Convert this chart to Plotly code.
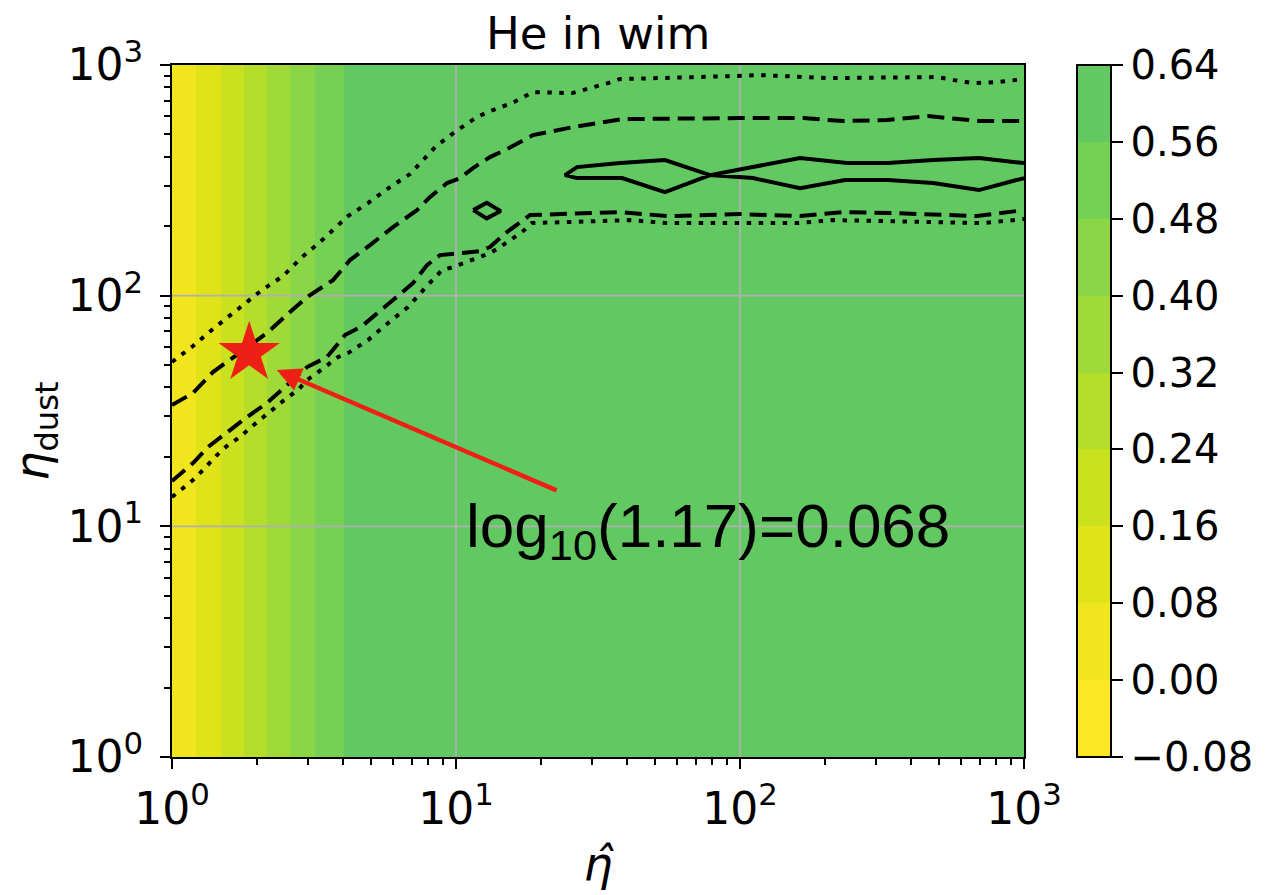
import math
import plotly.graph_objects as go

# ---------------- data ----------------
# grid of eta_hat (x) used for the filled field (20 log-spaced nodes)
ETA_HAT_GRID = [1.0, 1.438, 2.069, 2.976, 4.281, 6.158, 8.859, 12.74, 18.33, 26.37,
                37.93, 54.56, 78.48, 112.9, 162.4, 233.6, 336.0, 483.3, 695.2, 1000.0]
ETA_DUST_GRID = [1.0, 1000.0]
# filled-field value at each eta_hat node (independent of eta_dust)
FIELD_ROW = [0.005, 0.145, 0.302, 0.457, 0.580, 0.600, 0.610, 0.615, 0.618, 0.620,
             0.620, 0.621, 0.622, 0.622, 0.623, 0.623, 0.624, 0.624, 0.625, 0.625]

LEVELS = [-0.08, 0.00, 0.08, 0.16, 0.24, 0.32, 0.40, 0.48, 0.56, 0.64]
BAND_COLORS = ["#fde725", "#f1e51d", "#dfe318", "#cae11f", "#b5de2b",
               "#a0da39", "#8bd646", "#76d054", "#62c962"]

# contour lines (eta_hat, eta_dust)
DOTTED_UPPER_X = [1.0, 1.186, 1.394, 1.764, 2.074, 2.459, 2.846, 3.320, 4.166, 4.899, 5.856,
                  6.887, 7.906, 8.505, 10.0, 11.86, 13.17, 15.75, 18.67, 25.62, 34.29, 37.81,
                  94.5, 117.6, 207.5, 494, 595, 661, 803, 1000]
DOTTED_UPPER_Y = [51.6, 60.5, 71.7, 90.1, 105.8, 121.6, 145.6, 170.8, 221.3, 252.0, 295.6,
                  336.6, 402.9, 445.1, 516.9, 594.6, 631.2, 683.9, 763.0, 755.4, 834.7, 868.8,
                  895.2, 904.2, 877.5, 886.4, 851.6, 834.7, 843.2, 868.8]

DASHED_UPPER_X = [1.0, 1.186, 1.394, 1.562, 1.837, 2.160, 2.603, 2.988, 3.689, 4.235, 4.980,
                  6.000, 7.289, 8.099, 9.296, 10.33, 11.48, 13.17, 15.12, 18.67, 25.82, 38.42,
                  100, 166.7, 230.6, 329.4, 459.2, 699.9, 1000]
DASHED_UPPER_Y = [33.56, 37.82, 46.66, 51.56, 59.28, 68.85, 84.9, 98.6, 116.8, 142.7, 165.7,
                  198.3, 234.9, 267.5, 307.7, 323.4, 357.4, 398.9, 432.0, 496.7, 538.1, 582.9,
                  588.8, 588.8, 571.3, 577.1, 600.6, 571.3, 571.3]

SOLID_X = [1000, 694.1, 478.2, 331.9, 238.2, 162.7, 78.42, 54.43, 38.42, 26.68, 24.20,
           26.68, 37.81, 54.43, 78.42, 111.1, 162.7, 234.3, 331.9, 478.2, 694.1, 1000]
SOLID_Y = [375.6, 394.9, 387.1, 375.6, 375.6, 394.9, 333.3, 281.2, 323.4, 323.4, 333.3,
           360.9, 375.6, 387.1, 333.3, 323.4, 292.6, 317.0, 317.0, 307.7, 286.9, 323.4]

ISLAND_X = [11.50, 12.83, 14.37, 12.83, 11.50]
ISLAND_Y = [234.9, 252.7, 232.6, 216.3, 234.9]

DASHED_LOWER_X = [1.0, 1.186, 1.339, 1.562, 1.837, 2.160, 2.541, 2.988, 3.514, 4.066, 4.667,
                  5.103, 6.0, 7.057, 7.906, 8.784, 12.15, 13.17, 15.12, 18.22, 37.81, 55.33,
                  100, 162.7, 230.6, 345.8, 683.0, 1000]
DASHED_LOWER_Y = [15.72, 18.81, 22.07, 25.63, 29.77, 34.23, 40.97, 49.04, 54.19, 67.49, 73.83,
                  80.77, 95.7, 113.4, 135.7, 149.9, 156.1, 162.4, 188.7, 223.5, 230.3, 221.3,
                  225.8, 221.3, 230.3, 228.0, 221.3, 234.9]

DOTTED_LOWER_X = [1.0, 1.093, 1.186, 1.286, 1.440, 1.575, 1.735, 1.882, 2.178, 2.561, 2.778,
                  2.988, 3.240, 3.841, 4.166, 4.899, 5.762, 6.776, 7.778, 8.299, 8.927, 9.759,
                  11.86, 13.17, 14.29, 15.49, 17.08, 18.52, 27.33, 41.01, 55.33, 100, 158.8,
                  212.6, 387.3, 717.3, 1000]
DOTTED_LOWER_Y = [13.40, 14.66, 15.88, 17.54, 20.37, 22.51, 24.38, 26.68, 30.98, 36.35, 38.98,
                  43.08, 46.19, 54.19, 56.38, 64.20, 76.07, 89.23, 107.9, 116.8, 129.1, 133.0,
                  145.6, 152.9, 162.4, 174.2, 188.7, 206.4, 208.4, 212.6, 206.4, 206.4, 206.4,
                  212.6, 210.5, 206.4, 214.8]

STAR_X, STAR_Y = [1.87], [56.4]
ARROW_TIP = (2.337, 47.6)
ARROW_TAIL = (22.87, 14.22)
LABEL_POS = (10.65, 9.6)
LABEL_TEXT = "log<sub>10</sub>(1.17)=0.068"

DECADES = [1, 10, 100, 1000]
GRID_DECADES = [10, 100]

TITLE = "He in wim"
X_TITLE = "<i>η̂</i>"
Y_TITLE = "<i>η</i><sub>dust</sub>"
RED = "#ee2016"
FONT = "DejaVu Sans"

# ---------------- figure ----------------
fig = go.Figure()

# filled field: levels 0..0.56 -> colour positions k/8 for the 9 bands
n_b = len(BAND_COLORS)
fill_scale = [[k / (n_b - 1), c] for k, c in enumerate(BAND_COLORS)]
fig.add_trace(go.Contour(
    x=ETA_HAT_GRID, y=ETA_DUST_GRID, z=[FIELD_ROW, FIELD_ROW],
    colorscale=fill_scale, showscale=False,
    contours=dict(start=LEVELS[1], end=LEVELS[-2], size=0.08,
                  coloring="fill", showlines=False),
    line=dict(width=0), hoverinfo="skip",
))

# stepped colorbar (dummy trace)
step_scale = []
for k, c in enumerate(BAND_COLORS):
    step_scale.append([k / n_b, c])
    step_scale.append([(k + 1) / n_b, c])
tick_text = [("\u2212" if v < 0 else "") + f"{abs(v):.2f}" for v in LEVELS]
fig.add_trace(go.Scatter(
    x=[None], y=[None], mode="markers", showlegend=False, hoverinfo="skip",
    marker=dict(color=[LEVELS[0]], colorscale=step_scale, cmin=LEVELS[0], cmax=LEVELS[-1],
                showscale=True,
                colorbar=dict(x=1.0622, xanchor="left", xpad=0, ypad=0, y=0.5, yanchor="middle",
                              len=1, lenmode="fraction", thickness=34, thicknessmode="pixels",
                              outlinewidth=2, outlinecolor="black",
                              tickmode="array", tickvals=LEVELS, ticktext=tick_text,
                              ticks="outside", ticklen=11, tickwidth=2, tickcolor="black",
                              tickfont=dict(family=FONT, size=40, color="black"))),
))

# grid lines (drawn above the fill)
for v in GRID_DECADES:
    fig.add_trace(go.Scatter(x=[v, v], y=[DECADES[0], DECADES[-1]], mode="lines",
                             line=dict(color="#b0b0b0", width=1.8),
                             showlegend=False, hoverinfo="skip"))
    fig.add_trace(go.Scatter(x=[DECADES[0], DECADES[-1]], y=[v, v], mode="lines",
                             line=dict(color="#b0b0b0", width=1.8),
                             showlegend=False, hoverinfo="skip"))

DOT = "4.5px,7.5px"
DASH = "17px,8px"
LW = 4
for xs, ys, dash in [
    (DOTTED_UPPER_X, DOTTED_UPPER_Y, DOT),
    (DASHED_UPPER_X, DASHED_UPPER_Y, DASH),
    (SOLID_X, SOLID_Y, "solid"),
    (ISLAND_X, ISLAND_Y, "solid"),
    (DASHED_LOWER_X, DASHED_LOWER_Y, DASH),
    (DOTTED_LOWER_X, DOTTED_LOWER_Y, DOT),
]:
    fig.add_trace(go.Scatter(x=xs, y=ys, mode="lines",
                             line=dict(color="black", width=LW, dash=dash),
                             showlegend=False, hoverinfo="skip"))

fig.add_trace(go.Scatter(x=STAR_X, y=STAR_Y, mode="markers",
                         marker=dict(symbol="star", size=46, color=RED, line=dict(width=0)),
                         showlegend=False, hoverinfo="skip"))

fig.add_annotation(x=math.log10(ARROW_TIP[0]), y=math.log10(ARROW_TIP[1]),
                   ax=math.log10(ARROW_TAIL[0]), ay=math.log10(ARROW_TAIL[1]),
                   xref="x", yref="y", axref="x", ayref="y", text="",
                   showarrow=True, arrowhead=2, arrowsize=1.07, arrowwidth=4.5,
                   arrowcolor=RED, standoff=0, startstandoff=0)
fig.add_annotation(x=math.log10(LABEL_POS[0]), y=math.log10(LABEL_POS[1]),
                   xref="x", yref="y", text=LABEL_TEXT, showarrow=False,
                   xanchor="left", yanchor="middle",
                   font=dict(family="Liberation Sans", size=62, color="black"))

# chart title above the plot area
fig.add_annotation(x=0.5, y=1, xref="paper", yref="paper", text=TITLE, showarrow=False,
                   xanchor="center", yanchor="bottom", yshift=3,
                   font=dict(family=FONT, size=45, color="black"))

# y axis title as a rotated annotation (placed left of the tick labels)
fig.add_annotation(x=-0.1596, y=0.47, xref="paper", yref="paper", text=Y_TITLE,
                   textangle=-90, showarrow=False, xanchor="center", yanchor="middle",
                   font=dict(family=FONT, size=46, color="black"))

minor_vals = [m * d for d in DECADES[:-1] for m in range(2, 10)]
tick_labels = [f"10<sup>{int(round(math.log10(v)))}</sup>" for v in DECADES]
axis_common = dict(
    type="log", range=[0, 3], showgrid=False, zeroline=False,
    showline=True, linecolor="black", linewidth=2, mirror=True,
    tickmode="array", tickvals=DECADES, ticktext=tick_labels,
    ticks="outside", ticklen=10, tickwidth=2, tickcolor="black",
    tickfont=dict(family=FONT, size=44, color="black"),
    minor=dict(tickmode="array", tickvals=minor_vals, ticks="outside",
               ticklen=6, tickwidth=1.5, tickcolor="black", showgrid=False),
)
fig.update_xaxes(**axis_common, ticklabelstandoff=2,
                 title=dict(text=X_TITLE, font=dict(family=FONT, size=46, color="black")))
fig.update_yaxes(**axis_common, ticklabelstandoff=8)

# page body adds an 8px offset; figure sized/margined so the plot area lands at
# x 172..1024, y 65..757 of the window
fig.update_layout(
    width=1260, height=887,
    margin=dict(l=164, r=244, t=57, b=138, autoexpand=False),
    paper_bgcolor="white", plot_bgcolor="white",
    showlegend=False,
)

fig.write_html("out.html")
